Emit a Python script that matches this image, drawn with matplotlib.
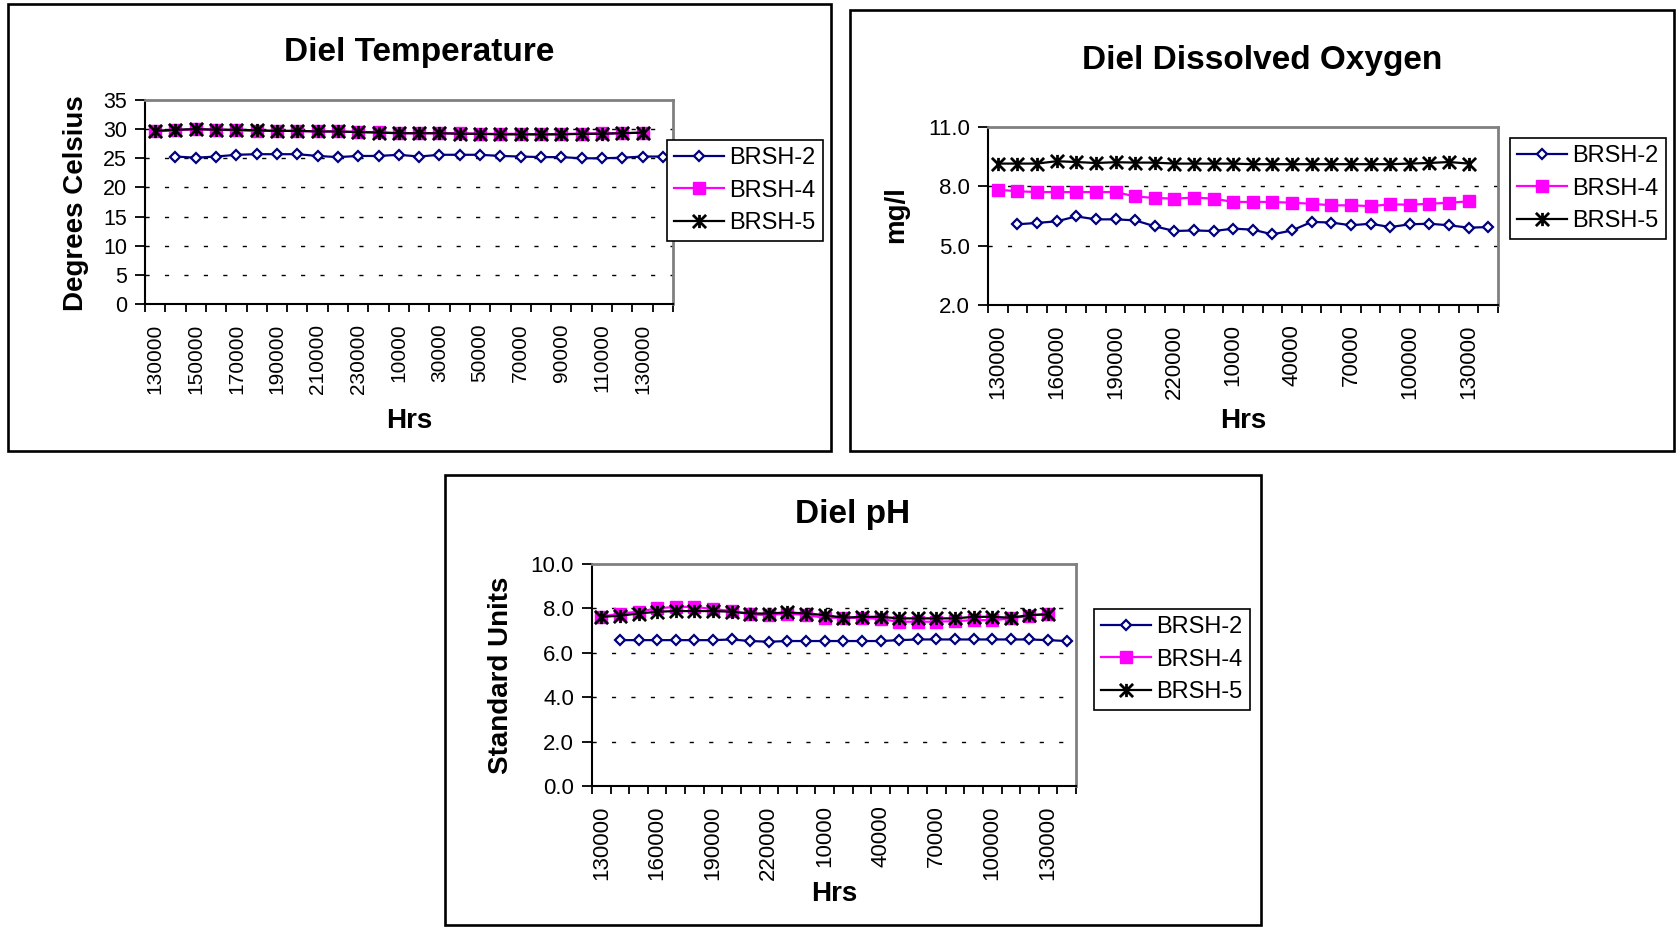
import numpy as np
import matplotlib
matplotlib.use('Agg')
import matplotlib.pyplot as plt
from matplotlib.patches import Rectangle
from matplotlib.path import Path

plt.rcParams['font.family'] = ['Liberation Sans', 'DejaVu Sans']

nan = np.nan

# time of day (hhmmss), 26 hourly readings
hours = ['130000', '140000', '150000', '160000', '170000', '180000', '190000',
         '200000', '210000', '220000', '230000', '0', '10000', '20000',
         '30000', '40000', '50000', '60000', '70000', '80000', '90000',
         '100000', '110000', '120000', '130000', '140000']
names = ['BRSH-2', 'BRSH-4', 'BRSH-5']

temp_brsh2 = [nan, 25.3, 25.1, 25.3, 25.6, 25.7, 25.7, 25.7, 25.4, 25.2, 25.4, 25.4, 25.6,
              25.3, 25.6, 25.6, 25.6, 25.4, 25.3, 25.2, 25.2, 25.0, 25.0, 25.1, 25.3, 25.3]
temp_brsh4 = [29.6, 29.8, 30.0, 29.9, 29.8, 29.7, 29.7, 29.7, 29.6, 29.6, 29.5, 29.5, 29.3,
              29.3, 29.3, 29.3, 29.2, 29.2, 29.2, 29.1, 29.2, 29.2, 29.3, 29.3, 29.4, nan]
temp_brsh5 = [29.7, 29.9, 30.0, 29.9, 29.9, 29.8, 29.7, 29.7, 29.6, 29.6, 29.5, 29.4, 29.3,
              29.3, 29.3, 29.2, 29.2, 29.1, 29.1, 29.1, 29.1, 29.2, 29.2, 29.3, 29.4, nan]

do_brsh2 = [nan, 6.08, 6.15, 6.23, 6.48, 6.33, 6.33, 6.28, 5.98, 5.74, 5.77, 5.74, 5.86,
            5.81, 5.57, 5.77, 6.20, 6.17, 6.03, 6.11, 5.94, 6.08, 6.11, 6.03, 5.91, 5.94]
do_brsh4 = [7.83, 7.75, 7.71, 7.71, 7.71, 7.71, 7.71, 7.49, 7.41, 7.38, 7.43, 7.38, 7.21,
            7.21, 7.21, 7.17, 7.12, 7.04, 7.04, 7.00, 7.09, 7.07, 7.12, 7.17, 7.24, nan]
do_brsh5 = [9.15, 9.15, 9.15, 9.27, 9.23, 9.18, 9.22, 9.20, 9.20, 9.15, 9.15, 9.15, 9.15,
            9.12, 9.12, 9.12, 9.12, 9.12, 9.12, 9.12, 9.12, 9.15, 9.18, 9.23, 9.15, nan]

ph_brsh2 = [nan, 6.57, 6.57, 6.57, 6.57, 6.57, 6.57, 6.60, 6.53, 6.50, 6.53, 6.53, 6.53,
            6.53, 6.53, 6.53, 6.57, 6.60, 6.60, 6.60, 6.60, 6.60, 6.60, 6.60, 6.57, 6.53]
ph_brsh4 = [7.62, 7.77, 7.85, 8.00, 8.07, 8.07, 7.97, 7.88, 7.73, 7.70, 7.77, 7.70, 7.58,
            7.58, 7.58, 7.52, 7.40, 7.40, 7.40, 7.43, 7.47, 7.47, 7.55, 7.67, 7.77, nan]
ph_brsh5 = [7.62, 7.67, 7.77, 7.85, 7.88, 7.88, 7.88, 7.85, 7.77, 7.77, 7.82, 7.77, 7.70,
            7.58, 7.62, 7.62, 7.55, 7.55, 7.55, 7.55, 7.62, 7.62, 7.58, 7.70, 7.73, nan]

temp_ticks = [0, 5, 10, 15, 20, 25, 30, 35]
do_ticks = [2.0, 5.0, 8.0, 11.0]
ph_ticks = [0.0, 2.0, 4.0, 6.0, 8.0, 10.0]

W, H = 1677, 927
fig = plt.figure(figsize=(W / 100, H / 100), dpi=100)


def fx(x):
    return x / W


def fy(y):
    return 1 - y / H


# excel style asterisk: vertical bar plus an x
star = Path([(0, -1), (0, 1), (-1, -1), (1, 1), (-1, 1), (1, -1)],
            [Path.MOVETO, Path.LINETO] * 3)


def panel(box, rect, title, tpos, ylabel, ylpos, xlpos, legpos,
          series, yticks, fmt, step, ysize, xsize):
    x0, y0, x1, y1 = box
    fig.add_artist(Rectangle((fx(x0), fy(y1)), (x1 - x0) / W, (y1 - y0) / H,
                             transform=fig.transFigure, fill=False,
                             ec='black', lw=1.9))
    l, t, r, b = rect
    ax = fig.add_axes([fx(l), fy(b), (r - l) / W, (b - t) / H])
    x = np.arange(len(hours))
    s2, s4, s5 = series
    ax.plot(x, s2, color='#000080', lw=1.6, marker='D', ms=5.6, mfc='white',
            mec='#000080', mew=1.6, label=names[0])
    ax.plot(x, s4, color='#ff00ff', lw=1.6, marker='s', ms=9, mfc='#ff00ff',
            mec='#ff00ff', label=names[1])
    ax.plot(x, s5, color='black', lw=1.6, marker=star, ms=9.5, mfc='none',
            mec='black', mew=2, label=names[2])

    for v in yticks[1:-1]:
        ax.axhline(v, color='black', lw=1, ls=(0, (3, 11)), zorder=1)

    ax.set_ylim(yticks[0], yticks[-1])
    ax.set_yticks(yticks)
    ax.set_yticklabels([fmt.format(v) for v in yticks])
    ax.tick_params(axis='y', direction='out', length=7, width=1.3, pad=6,
                   labelsize=ysize)

    ax.set_xlim(-0.5, len(hours) - 0.5)
    ax.set_xticks(x[::step])
    ax.set_xticklabels(hours[::step], rotation=90)
    ax.set_xticks(np.arange(-0.5, len(hours), 1), minor=True)
    ax.tick_params(axis='x', which='major', length=0, pad=14, labelsize=xsize)
    ax.tick_params(axis='x', which='minor', direction='out', length=6,
                   width=1.3)

    for side in ['left', 'bottom']:
        ax.spines[side].set_color('black')
        ax.spines[side].set_linewidth(1.5)
    for side in ['top', 'right']:
        ax.spines[side].set_color('#808080')
        ax.spines[side].set_linewidth(2)

    leg = ax.legend(loc='upper left', bbox_to_anchor=(fx(legpos[0]), fy(legpos[1])),
                    bbox_transform=fig.transFigure, fontsize=17, frameon=True,
                    fancybox=False, edgecolor='black', framealpha=1,
                    borderpad=0.3, labelspacing=0.45, handlelength=2.1,
                    handletextpad=0.25, borderaxespad=0)
    leg.get_frame().set_linewidth(1.2)

    fig.text(fx(tpos[0]), fy(tpos[1]), title, ha='center', va='center',
             fontsize=24, fontweight='bold')
    fig.text(fx(ylpos[0]), fy(ylpos[1]), ylabel, ha='center', va='center',
             rotation=90, fontsize=20, fontweight='bold')
    fig.text(fx(xlpos[0]), fy(xlpos[1]), 'Hrs', ha='center', va='center',
             fontsize=20, fontweight='bold')
    return ax


panel((8, 4, 831, 451), (145, 100, 673, 304), 'Diel Temperature', (419, 53),
      'Degrees Celsius', (76, 203), (409, 421), (667, 140),
      (temp_brsh2, temp_brsh4, temp_brsh5), temp_ticks, '{:.0f}', 2, 15.5, 15)

panel((850, 10, 1674, 451), (988, 127, 1498, 305), 'Diel Dissolved Oxygen', (1262, 60),
      'mg/l', (896, 215), (1243, 421), (1510, 138),
      (do_brsh2, do_brsh4, do_brsh5), do_ticks, '{:.1f}', 3, 16, 16)

panel((445, 475, 1261, 925), (592, 564, 1076, 786), 'Diel pH', (853, 515),
      'Standard Units', (501, 675), (834, 894), (1094, 609),
      (ph_brsh2, ph_brsh4, ph_brsh5), ph_ticks, '{:.1f}', 3, 16, 16)

fig.savefig('out.png', dpi=100)
